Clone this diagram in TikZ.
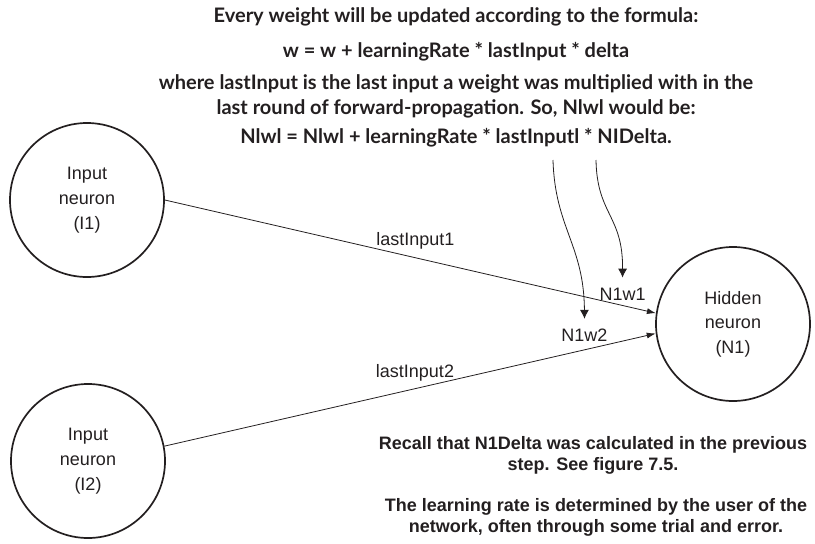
\documentclass[tikz,border=0pt]{standalone}
\usepackage{fontspec}
\setmainfont{Liberation Sans}
\newfontfamily\headfont{Lato}
\usepackage{xcolor}
\usepackage{tikz}
\usetikzlibrary{arrows.meta,positioning}

\definecolor{ink}{HTML}{231F20}

\begin{document}
\begin{tikzpicture}[x=1pt,y=-1pt,every node/.style={font=\fontsize{18}{25}\selectfont,align=center,text=ink},
  neuron/.style={draw=ink,circle,line width=1.7pt,minimum size=154pt,inner sep=0pt},
  note/.style={font=\headfont\bfseries\fontsize{20}{25}\selectfont},
  remark/.style={font=\bfseries\fontsize{18}{21}\selectfont},
  wire/.style={-{Latex[length=9pt,width=6pt]},line width=0.8pt,draw=ink},
  hint/.style={-{Latex[length=9pt,width=9pt]},line width=0.8pt,draw=ink}]
  \useasboundingbox (0,0) rectangle (815,544);
  \node[note] (rule) at (456,17) {Every weight will be updated according to the formula:};
  \node[note] (formula) at (456,52) {w = w + learningRate * lastInput * delta};
  \node[note] (where) at (456,96) {where lastInput is the last input a weight was multiplied with in the\\last round of forward-propagation. So, Nlwl would be:};
  \node[note] (update) at (456,138) {Nlwl = Nlwl + learningRate * lastInputl * NIDelta.};
  \node[neuron] (i1) at (87,200) {Input\\neuron\\(I1)};
  \node[neuron] (i2) at (88,461) {Input\\neuron\\(I2)};
  \node[neuron,font=\fontsize{18}{24.5}\selectfont] (n1) at (733,324) {Hidden\\neuron\\(N1)};
  \draw[wire] (i1.east) -- node[pos=0.51,above=5pt] (in1) {lastInput1}
    node[pos=0.932,above=1.5pt] (w1) {N1w1} (n1.172);
  \draw[wire] (i2.11) -- node[pos=0.51,above=3.5pt] (in2) {lastInput2}
    node[pos=0.855,above=4.5pt] (w2) {N1w2} (n1.187);
  \coordinate (srcA) at (553,160);
  \coordinate (srcB) at (596,160);
  \draw[hint] (srcA) .. controls (555,228) and (584,245) .. ([yshift=6.5pt]w2.north);
  \draw[hint] (srcB) .. controls (597,215) and (623,215) .. ([yshift=6.5pt]w1.north);
  \node[remark] (recall) at (593,455) {Recall that N1Delta was calculated in the previous\\step. See figure 7.5.};
  \node[remark] (rate) at (596,517) {The learning rate is determined by the user of the\\network, often through some trial and error.};
\end{tikzpicture}
\end{document}
